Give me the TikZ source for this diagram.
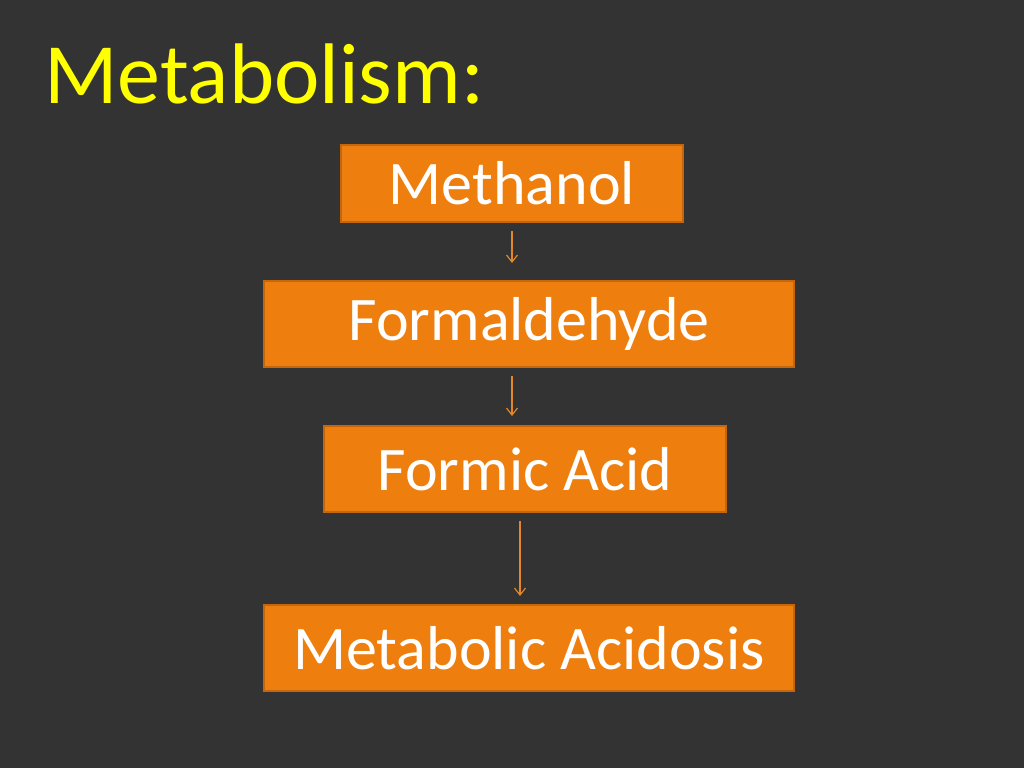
\documentclass[tikz,border=0pt]{standalone}
\usepackage{fontspec}
\setmainfont{Carlito}
\usetikzlibrary{arrows.meta}
\usepackage{xcolor}

\definecolor{slidebg}{HTML}{333333}
\definecolor{boxfill}{HTML}{EE7F0E}
\definecolor{boxedge}{HTML}{C4660C}
\definecolor{flowcol}{HTML}{E3862A}
\definecolor{titlecol}{HTML}{FFFF00}

\begin{document}
\begin{tikzpicture}[x=1pt,y=-1pt,
  box/.style={draw=boxedge, line width=2pt, fill=boxfill, text=white,
    font=\fontsize{62}{74}\selectfont, minimum height=86pt, inner sep=0pt},
  flow/.style={draw=flowcol, line width=1.2pt,
    -{Straight Barb[length=7pt,width=11pt]}}]
\fill[slidebg] (0,0) rectangle (1024,768);
\useasboundingbox (0,0) rectangle (1024,768);
\node[anchor=base west, text=titlecol, inner sep=0pt,
  font=\fontsize{86}{102}\selectfont] (title) at (44,103) {Metabolism:};
% the chain
\node[box, minimum width=342pt, minimum height=77pt] (meth) at (512,183.5) {Methanol};
\node[box, minimum width=530pt] (form) at (529,324) {Formaldehyde};
\node[box, minimum width=402pt] (acid) at (525,469) {Formic Acid};
\node[box, minimum width=530pt] (acidosis) at (529,648) {Metabolic Acidosis};
\draw[flow, shorten <=8pt, shorten >=17pt] (meth.south) -- (meth.south |- form.north);
\draw[flow, shorten <=8pt, shorten >=9pt] ([xshift=-17pt]form.south) -- ([xshift=-17pt]form.south |- acid.north);
\draw[flow, shorten <=8pt, shorten >=8pt] ([xshift=-5pt]acid.south) -- ([xshift=-5pt]acid.south |- acidosis.north);
\end{tikzpicture}
\end{document}
